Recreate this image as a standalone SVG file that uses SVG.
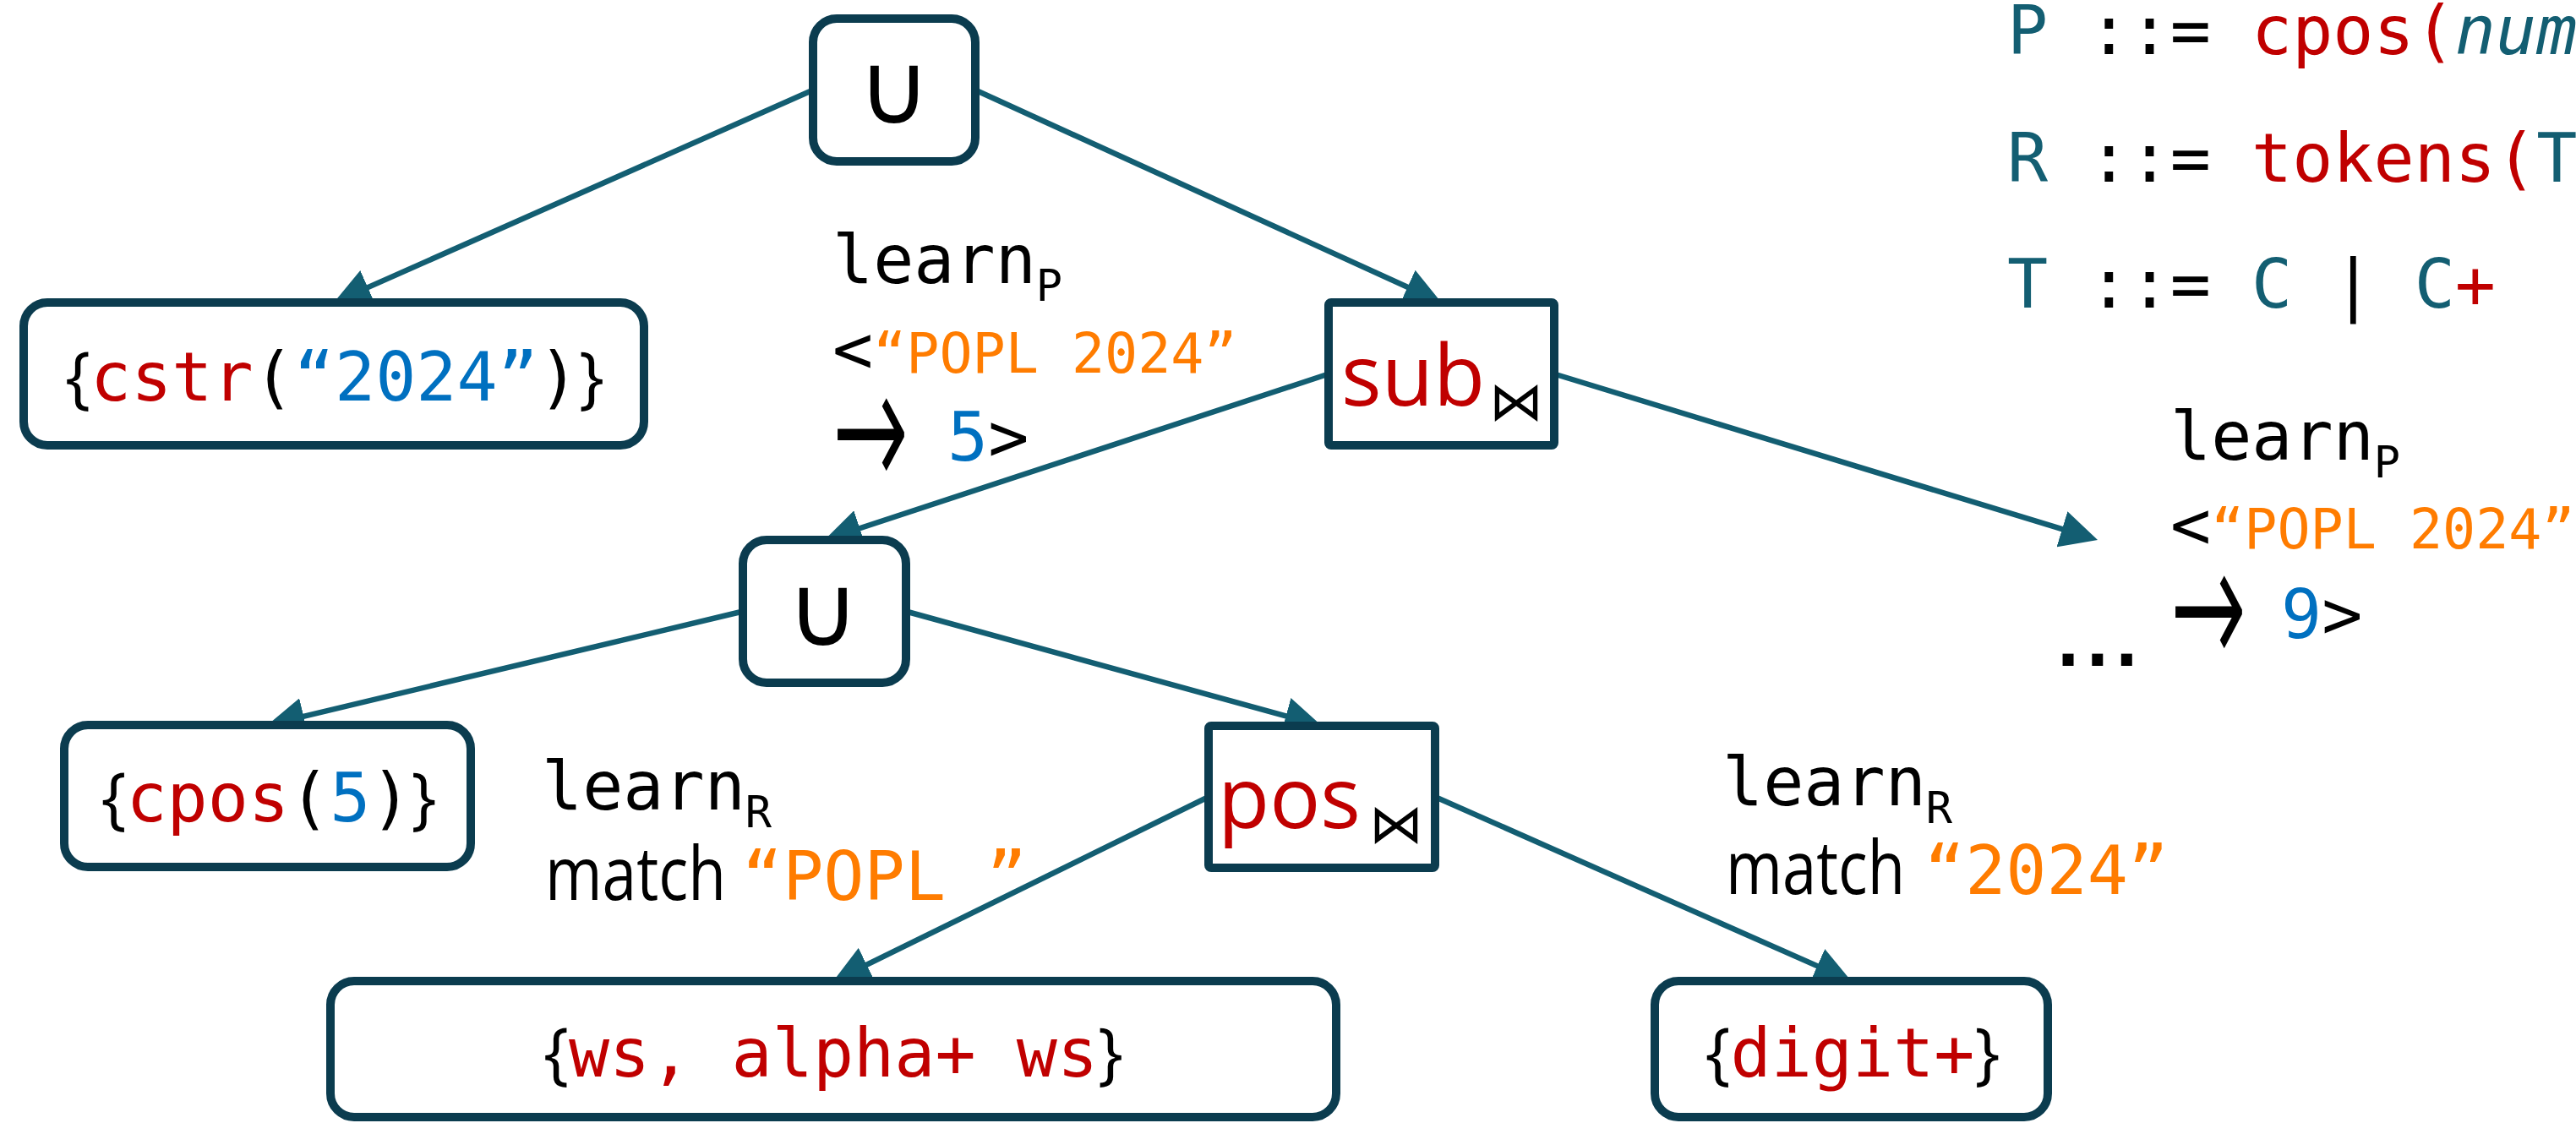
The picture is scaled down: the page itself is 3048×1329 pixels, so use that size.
<svg xmlns="http://www.w3.org/2000/svg" width="3048" height="1329" viewBox="0 0 3048 1329">
<style>
text { white-space: pre; }
.code { font-family: "DejaVu Sans Mono", monospace; font-size: 80px; fill: #000; }
.prop { font-family: "Open Sans", sans-serif; }
.sym { font-family: "DejaVu Sans", sans-serif; fill: #000; }
.arrowtxt { font-family: "DejaVu Sans", sans-serif; font-size: 100px; font-weight: 200; fill: #000; stroke: #000; stroke-width: 3; vector-effect: non-scaling-stroke; }
.red { fill: #C00000; }
.blue { fill: #0070C0; }
.orange { fill: #FF7C00; }
.teal { fill: #135E72; }
.node rect { fill: #fff; stroke: #0B3C4F; stroke-width: 10; }
.edge { stroke: #135E72; stroke-width: 6.5; fill: none; marker-end: url(#arr); }
</style>
<defs>
<marker id="arr" markerUnits="userSpaceOnUse" viewBox="0 0 44 44" markerWidth="44" markerHeight="44" refX="24" refY="22" orient="auto">
<path d="M0,0 L44,22 L0,44 Z" fill="#135E72"/>
</marker>
</defs>
<rect width="3048" height="1329" fill="#fff"/>
<g id="connectors">
<line class="edge" x1="962" y1="106.5" x2="413.3" y2="349.9"/>
<line class="edge" x1="1154" y1="106.5" x2="1687.3" y2="349.7"/>
<line class="edge" x1="1572" y1="442.5" x2="994.5" y2="632.7"/>
<line class="edge" x1="1839" y1="442.5" x2="2462.9" y2="633.2"/>
<line class="edge" x1="879" y1="723.5" x2="335.95" y2="853.35"/>
<line class="edge" x1="1072" y1="723.5" x2="1544.7" y2="853.7"/>
<line class="edge" x1="1430" y1="943" x2="1003.95" y2="1152.2"/>
<line class="edge" x1="1698" y1="943" x2="2172.2" y2="1152.9"/>
</g>
<g id="n-topU" class="node">
<rect x="962" y="22" width="192" height="169" rx="28"/>
<text class="sym" x="1058" y="146" font-size="118" text-anchor="middle">∪</text>
</g>
<g id="n-cstr" class="node">
<rect x="28" y="358" width="734" height="169" rx="28"/>
<text class="code" x="396" y="474" text-anchor="middle"><tspan class="prop">{</tspan><tspan class="red">cstr</tspan>(<tspan class="blue">“2024”</tspan>)<tspan class="prop">}</tspan></text>
</g>
<g id="n-sub" class="node">
<rect x="1572" y="358" width="267" height="169" rx="3"/>
<text class="prop red" x="1587" y="480" font-size="100">sub</text>
<text class="sym" x="1762" y="497" font-size="64">⋈</text>
</g>
<g id="n-midU" class="node">
<rect x="879" y="639" width="193" height="169" rx="28"/>
<text class="sym" x="974" y="764" font-size="118" text-anchor="middle">∪</text>
</g>
<g id="n-cpos" class="node">
<rect x="76" y="858" width="481" height="168" rx="28"/>
<text class="code" x="318" y="972" text-anchor="middle"><tspan class="prop">{</tspan><tspan class="red">cpos</tspan>(<tspan class="blue">5</tspan>)<tspan class="prop">}</tspan></text>
</g>
<g id="n-pos" class="node">
<rect x="1430" y="859" width="268" height="168" rx="3"/>
<text class="prop red" x="1441" y="980" font-size="100">pos</text>
<text class="sym" x="1620" y="997" font-size="64">⋈</text>
</g>
<g id="n-ws" class="node">
<rect x="391" y="1161" width="1190" height="161" rx="28"/>
<text class="code" x="986" y="1274" text-anchor="middle"><tspan class="prop">{</tspan><tspan class="red">ws, alpha+ ws</tspan><tspan class="prop">}</tspan></text>
</g>
<g id="n-digit" class="node">
<rect x="1958" y="1161" width="465" height="161" rx="28"/>
<text class="code" x="2192" y="1274" text-anchor="middle"><tspan class="prop">{</tspan><tspan class="red">digit+</tspan><tspan class="prop">}</tspan></text>
</g>
<g id="labels">
<text class="code" x="985" y="335">learn<tspan font-size="52" dy="21">P</tspan></text>
<text class="code" x="985" y="441">&lt;<tspan class="orange" font-size="65">“POPL 2024”</tspan></text>
<text class="arrowtxt" transform="translate(986,577) scale(1.05,2)">→</text>
<text class="code" x="1121" y="545"><tspan class="blue">5</tspan>&gt;</text>
<text class="code" x="2568" y="544">learn<tspan font-size="52" dy="21">P</tspan></text>
<text class="code" x="2568" y="649">&lt;<tspan class="orange" font-size="65">“POPL 2024”</tspan></text>
<text class="arrowtxt" transform="translate(2569,787) scale(1.05,2)">→</text>
<text class="code" x="2699" y="755"><tspan class="blue">9</tspan>&gt;</text>
<text class="code" x="2423" y="788" font-weight="bold" letter-spacing="-13.5">...</text>
<text class="code" x="641" y="958">learn<tspan font-size="52" dy="21">R</tspan></text>
<text class="prop" x="645" y="1065" font-size="88" textLength="214" lengthAdjust="spacingAndGlyphs">match</text>
<text class="code orange" x="878" y="1065">“POPL ”</text>
<text class="code" x="2038" y="953">learn<tspan font-size="52" dy="21">R</tspan></text>
<text class="prop" x="2042" y="1058" font-size="88" textLength="212" lengthAdjust="spacingAndGlyphs">match</text>
<text class="code orange" x="2277" y="1058">“2024”</text>
</g>
<g id="grammar">
<text class="code" x="2375" y="64"><tspan class="teal">P</tspan> ::= <tspan class="red">cpos(</tspan><tspan class="teal" font-style="italic">num</tspan></text>
<text class="code" x="2375" y="215"><tspan class="teal">R</tspan> ::= <tspan class="red">tokens(</tspan><tspan class="teal">T</tspan></text>
<text class="code" x="2375" y="364"><tspan class="teal">T</tspan> ::= <tspan class="teal">C</tspan> | <tspan class="teal">C</tspan><tspan class="red">+</tspan></text>
</g>
</svg>
